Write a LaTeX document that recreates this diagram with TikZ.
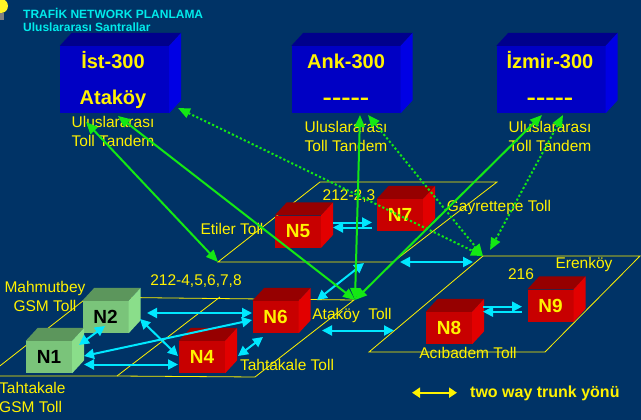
\documentclass[tikz,border=0pt]{standalone}
\usepackage{fontspec}
\setmainfont{Liberation Sans}
\usetikzlibrary{arrows.meta,positioning}

\definecolor{zemin}{RGB}{0,51,102}
\definecolor{baslik}{RGB}{0,235,235}
\definecolor{mavion}{RGB}{0,0,196}
\definecolor{maviust}{RGB}{0,0,140}
\definecolor{maviyan}{RGB}{0,0,228}
\definecolor{kirmizion}{RGB}{200,0,0}
\definecolor{kirmiziust}{RGB}{150,0,0}
\definecolor{kirmiziyan}{RGB}{226,0,0}
\definecolor{yesilon}{RGB}{122,196,122}
\definecolor{yesilust}{RGB}{92,150,92}
\definecolor{yesilyan}{RGB}{138,222,138}
\definecolor{trunkcyan}{RGB}{0,232,255}
\definecolor{agyesil}{RGB}{20,232,20}

\begin{document}
\begin{tikzpicture}[x=1pt,y=-1pt,
	>={Triangle[length=10pt,width=10pt]},
	bigbox/.style={fill=mavion, minimum width=109pt, minimum height=67pt, inner sep=0pt},
	nbox/.style={minimum width=46pt, minimum height=32pt, inner sep=0pt, font=\fontsize{19}{22}\selectfont\bfseries},
	rednode/.style={nbox, fill=kirmizion, text=yellow},
	greennode/.style={nbox, fill=yesilon, text=black},
	boxtxt/.style={text=yellow, font=\fontsize{20}{24}\selectfont\bfseries, inner sep=0pt, anchor=base},
	lbl/.style={text=yellow, font=\fontsize{15.5}{19}\selectfont, inner sep=0pt},
	plane/.style={draw=yellow, line width=0.8pt},
	trunk/.style={draw=trunkcyan, line width=2pt},
	gline/.style={draw=agyesil, line width=2pt, {Triangle[length=12pt,width=10pt]}-{Triangle[length=12pt,width=10pt]}},
	gdots/.style={gline, line width=2pt, dash pattern=on 2.2pt off 2.2pt}]

	\fill[zemin] (0,0) rectangle (641,420);
	\useasboundingbox (0,0) rectangle (641,420);
	% lamba
	\fill[yellow!85!white] (1,6) circle (7);
	\fill[gray] (0,13) rectangle (3.5,20);
	%
	\node[anchor=base west, inner sep=0pt, text=baslik, font=\fontsize{12}{14}\selectfont\bfseries] (baslik1) at (23,19) {TRAFİK NETWORK PLANLAMA};
	\node[anchor=base west, inner sep=0pt, text=baslik, font=\fontsize{12}{14}\selectfont\bfseries] (baslik2) at (23,32) {Uluslararası Santrallar};
	%
	% duzlemler
	\coordinate (p1a) at (218,262);
	\coordinate (p1b) at (393,262);
	\coordinate (p1c) at (497,182);
	\coordinate (p1d) at (320,182);
	\coordinate (p2a) at (-13,376);
	\coordinate (p2b) at (117,376);
	\coordinate (p2c) at (255,377);
	\coordinate (p2d) at (354,300);
	\coordinate (p2e) at (170,298);
	\coordinate (p2f) at (88,297);
	\coordinate (p2g) at (220,297);
	\coordinate (p3a) at (369,352);
	\coordinate (p3b) at (545,352);
	\coordinate (p3c) at (640,256);
	\coordinate (p3d) at (483,256);
	\draw[plane] (p1a) -- (p1b) -- (p1c) -- (p1d) -- cycle;
	\draw[plane] (p2a) -- (p2b) -- (p2c) -- (p2d) -- (p2e) -- (p2f) -- cycle;
	\draw[plane] (p2b) -- (p2g);
	\draw[plane] (p3a) -- (p3b) -- (p3c) -- (p3d) -- cycle;
	%
	% santraller
	\node[bigbox] (ist) at (114.5,79.5) {};
	\node[bigbox] (ank) at (346,79.5) {};
	\node[bigbox] (izmir) at (551,79.5) {};
	\node[greennode] (n2) at (105.5,317) {N2};
	\node[greennode] (n1) at (49,357) {N1};
	\node[rednode] (n4) at (202,357) {N4};
	\node[rednode] (n5) at (298,231.5) {N5};
	\node[rednode] (n6) at (275.5,317) {N6};
	\node[rednode] (n7) at (400,215) {N7};
	\node[rednode] (n8) at (449,328) {N8};
	\node[rednode] (n9) at (550.5,305.5) {N9};
	\foreach \kutu/\ust/\yan in {ist/maviust/maviyan, ank/maviust/maviyan, izmir/maviust/maviyan,
		n2/yesilust/yesilyan, n1/yesilust/yesilyan, n4/kirmiziust/kirmiziyan, n5/kirmiziust/kirmiziyan,
		n6/kirmiziust/kirmiziyan, n7/kirmiziust/kirmiziyan, n8/kirmiziust/kirmiziyan, n9/kirmiziust/kirmiziyan}{
		\fill[fill=\ust] (\kutu.north west) -- ++(12,-13) -- ([shift={(12,-13)}]\kutu.north east) -- (\kutu.north east) -- cycle;
		\fill[fill=\yan] (\kutu.north east) -- ([shift={(12,-13)}]\kutu.north east) -- ([shift={(12,-13)}]\kutu.south east) -- (\kutu.south east) -- cycle;
	}
	\node[boxtxt] (istno) at (113,69) {İst-300};
	\node[boxtxt] (istyer) at (113,105) {Ataköy};
	\node[boxtxt] (ankno) at (346,69) {Ank-300};
	\node[boxtxt] (ankyer) at (346,105) {\scalebox{1.4}[1]{-\kern0pt-\kern0pt-\kern0pt-\kern0pt-}};
	\node[boxtxt] (izmirno) at (550,69) {İzmir-300};
	\node[boxtxt] (izmiryer) at (550,105) {\scalebox{1.4}[1]{-\kern0pt-\kern0pt-\kern0pt-\kern0pt-}};
	%
	% yazilar
	\node[lbl, align=center] (istalt) at (113,131.4) {Uluslararası\\Toll Tandem};
	\node[lbl, align=center] (ankalt) at (346,136.4) {Uluslararası\\Toll Tandem};
	\node[lbl, align=center] (izmiralt) at (550,136.4) {Uluslararası\\Toll Tandem};
	\node[lbl, anchor=base] (kod23) at (349,200.4) {212-2,3};
	\node[lbl, anchor=base] (etiler) at (232,234.4) {Etiler Toll};
	\node[lbl, anchor=base] (gayret) at (499,211.4) {Gayrettepe Toll};
	\node[lbl, anchor=base] (kod48) at (196,285.4) {212-4,5,6,7,8};
	\node[lbl, align=center] (mahmut) at (45,296.5) {Mahmutbey\\GSM Toll};
	\node[lbl, align=left, anchor=west] (tahtagsm) at (-1,397.4) {Tahtakale\\GSM Toll};
	\node[lbl, anchor=base] (tahtatoll) at (287,370.4) {Tahtakale Toll};
	\node[lbl, anchor=base] (atakoy) at (352,319.4) {Ataköy\ \ Toll};
	\node[lbl, anchor=base] (acibadem) at (468,358.4) {Acıbadem Toll};
	\node[lbl, anchor=base] (erenkoy) at (584,268.4) {Erenköy};
	\node[lbl, anchor=base] (kod216) at (521,279.4) {216};
	%
	% two way trunk oklari
	\coordinate (c57a) at (333,222.5);
	\coordinate (c57b) at (372,222.5);
	\coordinate (c75a) at (372,227.5);
	\coordinate (c75b) at (333,227.5);
	\coordinate (c89a) at (483,306.7);
	\coordinate (c89b) at (522,306.7);
	\coordinate (c98a) at (522,311.7);
	\coordinate (c98b) at (483,311.7);
	\coordinate (c13a) at (400,262);
	\coordinate (c13b) at (473,262);
	\coordinate (c68a) at (322,330.5);
	\coordinate (c68b) at (394,330.5);
	\coordinate (c61a) at (317,300);
	\coordinate (c61b) at (364,263);
	\coordinate (c26a) at (147,313);
	\coordinate (c26b) at (252,313);
	\coordinate (c24a) at (140,319);
	\coordinate (c24b) at (178,356);
	\coordinate (c12a) at (79,345);
	\coordinate (c12b) at (105,326);
	\coordinate (c16a) at (84,356);
	\coordinate (c16b) at (252,320);
	\coordinate (c14a) at (84,364.5);
	\coordinate (c14b) at (178,364.5);
	\coordinate (c46a) at (238,356);
	\coordinate (c46b) at (263,337);
	\draw[trunk,->] (c57a) -- (c57b);
	\draw[trunk,->] (c75a) -- (c75b);
	\draw[trunk,->] (c89a) -- (c89b);
	\draw[trunk,->] (c98a) -- (c98b);
	\draw[trunk,<->] (c13a) -- (c13b);
	\draw[trunk,<->] (c68a) -- (c68b);
	\draw[trunk,<->] (c61a) -- (c61b);
	\draw[trunk,<->] (c26a) -- (c26b);
	\draw[trunk,<->] (c24a) -- (c24b);
	\draw[trunk,<->] (c12a) -- (c12b);
	\draw[trunk,<->] (c16a) -- (c16b);
	\draw[trunk,<->] (c14a) -- (c14b);
	\draw[trunk,<->] (c46a) -- (c46b);
	%
	% uluslararasi baglantilar
	\coordinate (istG1) at (86,122);
	\coordinate (istG2) at (118,116);
	\coordinate (ankG) at (360,115);
	\coordinate (izmirG) at (542,115);
	\coordinate (atakoyC) at (355,300);
	\coordinate (istD) at (178,108);
	\coordinate (ankD) at (368,115);
	\coordinate (izmirD) at (563,115);
	\coordinate (erenD) at (490,250);
	\draw[gline] (istG1) -- (p1a);
	\draw[gline] (istG2) -- (atakoyC);
	\draw[gline] (ankG) -- (atakoyC);
	\draw[gline] (izmirG) -- (atakoyC);
	\draw[gdots] (istD) -- (p3d);
	\draw[gdots] (ankD) -- (p3d);
	\draw[gdots] (izmirD) -- (erenD);
	%
	% lejant
	\coordinate (lejA) at (412,392.7);
	\coordinate (lejB) at (457,392.7);
	\draw[yellow, line width=2pt, {Triangle[length=8pt,width=10pt]}-{Triangle[length=8pt,width=10pt]}] (lejA) -- (lejB);
	\node[anchor=base west, inner sep=0pt, text=yellow, font=\fontsize{16}{19}\selectfont\bfseries] (lejant) at (470,397) {two way trunk yönü};

\end{tikzpicture}
\end{document}
